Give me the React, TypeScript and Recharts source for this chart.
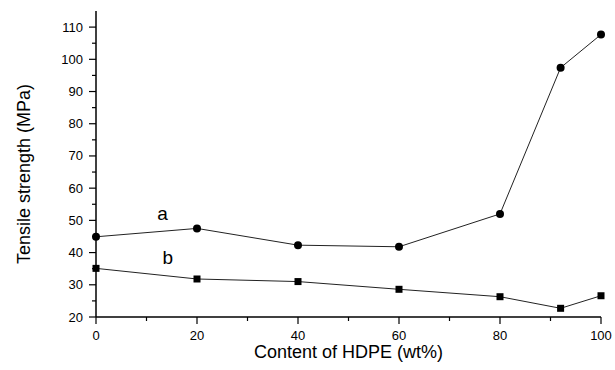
import React from "react";
import {
    LineChart,
    Line,
    XAxis,
    YAxis,
    ReferenceDot,
    Label,
} from "recharts";

// HDPE content (wt%) and tensile strength (MPa) for the two series
const hdpeContent = [0, 20, 40, 60, 80, 92, 100];
const strengthA = [44.9, 47.5, 42.3, 41.8, 52.0, 97.4, 107.7];
const strengthB = [35.1, 31.8, 31.0, 28.6, 26.3, 22.7, 26.6];

const xTicks = [0, 10, 20, 30, 40, 50, 60, 70, 80, 90, 100];
const yTicks = [20, 25, 30, 35, 40, 45, 50, 55, 60, 65, 70, 75, 80, 85, 90, 95, 100, 105, 110];

const FONT = '"Liberation Sans", Arial, sans-serif';

const chartData = hdpeContent.map((x, i) => ({
    hdpe: x,
    a: strengthA[i],
    b: strengthB[i],
}));

const XTick = (props: any) => {
    const { x, y, payload } = props;
    const major = payload.value % 20 === 0;
    return (
        <g>
            <line x1={x} x2={x} y1={y} y2={y + (major ? 7 : 4)} stroke="#000" strokeWidth={1.2} />
            {major && (
                <text x={x} y={y + 23} textAnchor="middle" fontSize={13} fontFamily={FONT} fill="#000">
                    {payload.value}
                </text>
            )}
        </g>
    );
};

const YTick = (props: any) => {
    const { x, y, payload } = props;
    const major = payload.value % 10 === 0;
    return (
        <g>
            <line x1={x} x2={x - (major ? 7 : 4)} y1={y} y2={y} stroke="#000" strokeWidth={1.2} />
            {major && (
                <text x={x - 13} y={y} dy="0.35em" textAnchor="end" fontSize={13} fontFamily={FONT} fill="#000">
                    {payload.value}
                </text>
            )}
        </g>
    );
};

const SquareDot = (props: any) => {
    const { cx, cy } = props;
    if (cx == null || cy == null) return null;
    return <rect x={cx - 3.5} y={cy - 3.5} width={7} height={7} fill="#000" />;
};

const CircleDot = (props: any) => {
    const { cx, cy } = props;
    if (cx == null || cy == null) return null;
    return <circle cx={cx} cy={cy} r={4} fill="#000" />;
};

export default function App() {
    return (
        <div style={{ position: "absolute", left: 0, top: 0, background: "#fff" }}>
            <LineChart
                width={615}
                height={370}
                data={chartData}
                margin={{ top: 11, right: 14, left: 0, bottom: 0 }}
            >
                <XAxis
                    dataKey="hdpe"
                    type="number"
                    domain={[0, 100]}
                    ticks={xTicks}
                    interval={0}
                    tickSize={0}
                    tickMargin={0}
                    tick={<XTick />}
                    height={53}
                    axisLine={{ stroke: "#000", strokeWidth: 1.5 }}
                >
                    <Label
                        content={(p: any) => {
                            const vb = p.viewBox;
                            return (
                                <text
                                    x={vb.x + vb.width / 2}
                                    y={vb.y + 41}
                                    textAnchor="middle"
                                    fontSize={18}
                                    fontFamily={FONT}
                                    fill="#000"
                                >
                                    Content of HDPE (wt%)
                                </text>
                            );
                        }}
                    />
                </XAxis>
                <XAxis
                    xAxisId="top"
                    orientation="top"
                    dataKey="hdpe"
                    type="number"
                    domain={[0, 100]}
                    tick={false}
                    tickLine={false}
                    height={0}
                    axisLine={{ stroke: "#000", strokeWidth: 1.5 }}
                />
                <YAxis
                    type="number"
                    domain={[20, 115]}
                    ticks={yTicks}
                    interval={0}
                    tickSize={0}
                    tickMargin={0}
                    tick={<YTick />}
                    width={96}
                    axisLine={{ stroke: "#000", strokeWidth: 1.5 }}
                >
                    <Label
                        content={(p: any) => {
                            const vb = p.viewBox;
                            const cx = vb.x + 30;
                            const cy = vb.y + vb.height / 2 + 10;
                            return (
                                <text
                                    x={cx}
                                    y={cy}
                                    transform={`rotate(-90, ${cx}, ${cy})`}
                                    textAnchor="middle"
                                    fontSize={18}
                                    fontFamily={FONT}
                                    fill="#000"
                                >
                                    Tensile strength (MPa)
                                </text>
                            );
                        }}
                    />
                </YAxis>
                <YAxis
                    yAxisId="right"
                    orientation="right"
                    type="number"
                    domain={[20, 115]}
                    tick={false}
                    tickLine={false}
                    width={0}
                    axisLine={{ stroke: "#000", strokeWidth: 1.5 }}
                />
                <Line
                    dataKey="a"
                    stroke="#222"
                    strokeWidth={1}
                    dot={<CircleDot />}
                    activeDot={false}
                    isAnimationActive={false}
                />
                <Line
                    dataKey="b"
                    stroke="#222"
                    strokeWidth={1}
                    dot={<SquareDot />}
                    activeDot={false}
                    isAnimationActive={false}
                />
                <ReferenceDot
                    x={13.2}
                    y={52.3}
                    r={0}
                    fill="none"
                    stroke="none"
                    label={{ value: "a", position: "center", fontSize: 19, fontFamily: FONT, fill: "#000" }}
                />
                <ReferenceDot
                    x={14.2}
                    y={38.6}
                    r={0}
                    fill="none"
                    stroke="none"
                    label={{ value: "b", position: "center", fontSize: 19, fontFamily: FONT, fill: "#000" }}
                />
            </LineChart>
        </div>
    );
}
